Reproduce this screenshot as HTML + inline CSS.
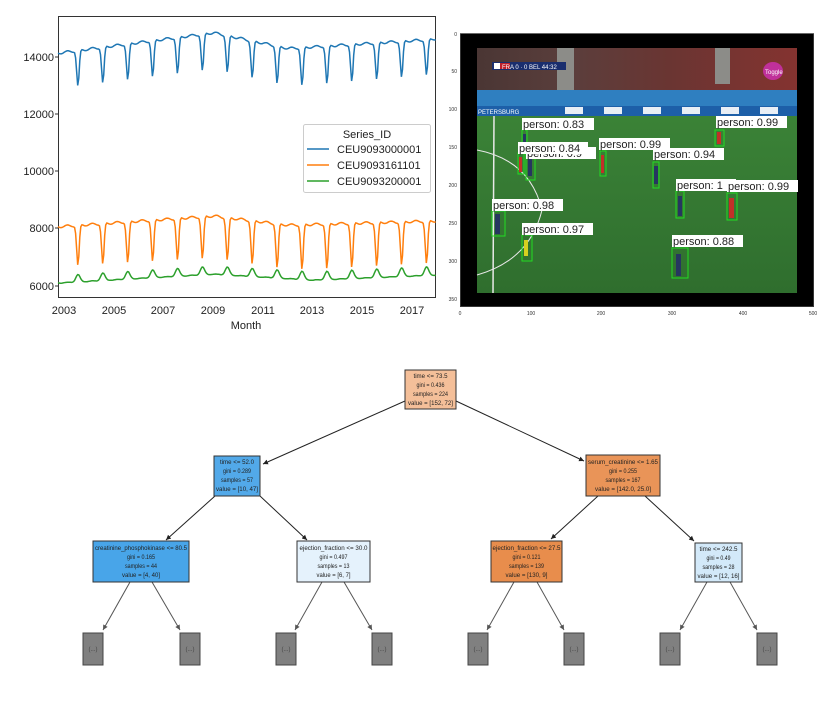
<!DOCTYPE html>
<html><head><meta charset="utf-8"><style>
html,body{margin:0;padding:0;background:#fff;width:830px;height:709px;overflow:hidden}
svg{display:block}
text{font-family:"Liberation Sans",sans-serif}
</style></head><body>
<svg id="s" width="830" height="709" viewBox="0 0 830 709" xmlns="http://www.w3.org/2000/svg">
<rect x="58.5" y="16.5" width="377" height="281" fill="#fff" stroke="#333" stroke-width="1"/>
<g font-size="11" fill="#222" text-anchor="end">
<text x="54" y="61">14000</text><text x="54" y="118">12000</text><text x="54" y="175">10000</text><text x="54" y="232">8000</text><text x="54" y="290">6000</text>
</g>
<g stroke="#333"><line x1="55" y1="57" x2="58" y2="57"/><line x1="55" y1="114" x2="58" y2="114"/><line x1="55" y1="171" x2="58" y2="171"/><line x1="55" y1="228" x2="58" y2="228"/><line x1="55" y1="286" x2="58" y2="286"/></g>
<g font-size="11" fill="#222" text-anchor="middle">
<text x="64" y="314">2003</text><text x="114" y="314">2005</text><text x="163" y="314">2007</text><text x="213" y="314">2009</text><text x="263" y="314">2011</text><text x="312" y="314">2013</text><text x="362" y="314">2015</text><text x="412" y="314">2017</text>
<text x="246" y="329">Month</text>
</g>
<g id="lines" fill="none" stroke-width="1.5"></g>
<rect x="303.5" y="124.5" width="127" height="68" rx="2" fill="#fff" fill-opacity="0.85" stroke="#ccc"/>
<text x="367" y="138" font-size="11" fill="#222" text-anchor="middle">Series_ID</text>
<line x1="307" y1="149" x2="329" y2="149" stroke="#1f77b4" stroke-width="1.5"/>
<line x1="307" y1="165" x2="329" y2="165" stroke="#ff7f0e" stroke-width="1.5"/>
<line x1="307" y1="181" x2="329" y2="181" stroke="#2ca02c" stroke-width="1.5"/>
<g font-size="11" fill="#222"><text x="337" y="153">CEU9093000001</text><text x="337" y="169">CEU9093161101</text><text x="337" y="185">CEU9093200001</text></g>

<rect x="460" y="34" width="354" height="273" fill="#000"/>
<defs>
<linearGradient id="fld" x1="0" y1="0" x2="0" y2="1"><stop offset="0" stop-color="#3f8a3a"/><stop offset="1" stop-color="#2f6e2e"/></linearGradient>
<linearGradient id="crowd" x1="0" y1="0" x2="1" y2="0"><stop offset="0" stop-color="#4a3634"/><stop offset="0.3" stop-color="#5b3e3c"/><stop offset="0.6" stop-color="#6a3532"/><stop offset="1" stop-color="#843330"/></linearGradient>
</defs>
<rect x="477" y="48" width="320" height="245" fill="url(#fld)"/>
<rect x="477" y="48" width="320" height="43" fill="url(#crowd)"/>
<rect x="557" y="48" width="17" height="43" fill="#8c8c88"/>
<rect x="715" y="48" width="15" height="36" fill="#8c8c88"/>
<rect x="477" y="90" width="320" height="16" fill="#2f7fc0"/>
<rect x="477" y="106" width="320" height="10" fill="#1d5fa8"/>
<g fill="#e8eef5"><rect x="565" y="107" width="18" height="7"/><rect x="604" y="107" width="18" height="7"/><rect x="643" y="107" width="18" height="7"/><rect x="682" y="107" width="18" height="7"/><rect x="721" y="107" width="18" height="7"/><rect x="760" y="107" width="18" height="7"/></g>
<text x="478" y="114" font-size="6" fill="#fff">PETERSBURG</text>
<rect x="492" y="62" width="74" height="8" fill="#1a2e6e"/>
<rect x="494" y="63" width="6" height="6" fill="#fff"/><rect x="500" y="63" width="10" height="6" fill="#c0202a"/>
<text x="502" y="69" font-size="6" fill="#fff">FRA  0 · 0  BEL  44:32</text>
<ellipse cx="773" cy="71" rx="10" ry="9" fill="#c0309a"/>
<text x="765" y="74" font-size="6" fill="#fff">Toggle</text>
<path d="M477 150 Q530 160 542 210 Q530 260 477 275" fill="none" stroke="#e8e8e8" stroke-width="1"/>
<line x1="494" y1="116" x2="493" y2="293" stroke="#e8e8e8" stroke-width="1.5"/>
<g fill="none" stroke="#22dd22" stroke-width="1">
<rect x="522" y="130" width="5" height="20"/><rect x="518" y="153" width="6" height="21"/><rect x="526" y="150" width="9" height="30"/>
<rect x="600" y="151" width="6" height="25"/><rect x="653" y="162" width="6" height="26"/><rect x="715" y="130" width="9" height="16"/>
<rect x="676" y="191" width="8" height="27"/><rect x="727" y="193" width="10" height="27"/><rect x="492" y="211" width="13" height="25"/>
<rect x="522" y="235" width="10" height="26"/><rect x="672" y="248" width="16" height="30"/>
</g>
<g fill="#263660"><rect x="523" y="134" width="3" height="14"/><rect x="528" y="158" width="4" height="18"/><rect x="654" y="166" width="4" height="18"/><rect x="678" y="196" width="4" height="20"/><rect x="495" y="214" width="5" height="20"/><rect x="676" y="254" width="5" height="22"/></g>
<g fill="#c23028"><rect x="519" y="157" width="3" height="15"/><rect x="601" y="155" width="3" height="18"/><rect x="717" y="132" width="4" height="12"/><rect x="729" y="198" width="5" height="20"/></g>
<rect x="524" y="240" width="4" height="16" fill="#d6d020"/>
<g font-size="11" fill="#222">
<rect x="526" y="147" width="70" height="12" fill="#fff"/><text x="527" y="157">person: 0.9</text>
<rect x="522" y="118" width="72" height="12" fill="#fff"/><text x="523" y="128">person: 0.83</text>
<rect x="518" y="142" width="70" height="12" fill="#fff"/><text x="519" y="152">person: 0.84</text>
<rect x="599" y="138" width="71" height="12" fill="#fff"/><text x="600" y="148">person: 0.99</text>
<rect x="653" y="148" width="71" height="12" fill="#fff"/><text x="654" y="158">person: 0.94</text>
<rect x="716" y="116" width="71" height="12" fill="#fff"/><text x="717" y="126">person: 0.99</text>
<rect x="676" y="179" width="60" height="12" fill="#fff"/><text x="677" y="189">person: 1</text>
<rect x="727" y="180" width="71" height="12" fill="#fff"/><text x="728" y="190">person: 0.99</text>
<rect x="492" y="199" width="71" height="12" fill="#fff"/><text x="493" y="209">person: 0.98</text>
<rect x="522" y="223" width="71" height="12" fill="#fff"/><text x="523" y="233">person: 0.97</text>
<rect x="672" y="235" width="71" height="12" fill="#fff"/><text x="673" y="245">person: 0.88</text>
</g>
<rect x="460.5" y="33.5" width="353" height="273" fill="none" stroke="#444" stroke-width="0.8"/>
<g font-size="5" fill="#333" text-anchor="end">
<text x="457" y="36">0</text><text x="457" y="73">50</text><text x="457" y="111">100</text><text x="457" y="149">150</text><text x="457" y="187">200</text><text x="457" y="225">250</text><text x="457" y="263">300</text><text x="457" y="301">350</text>
</g>
<g font-size="5" fill="#333" text-anchor="middle">
<text x="460" y="315">0</text><text x="531" y="315">100</text><text x="601" y="315">200</text><text x="672" y="315">300</text><text x="743" y="315">400</text><text x="813" y="315">500</text>
</g>

<defs><marker id="ar" markerWidth="6" markerHeight="6" refX="5" refY="3" orient="auto"><path d="M0,0.5 L5,3 L0,5.5z" fill="#222"/></marker>
<marker id="ar2" markerWidth="6" markerHeight="6" refX="5" refY="3" orient="auto"><path d="M0,0.5 L5,3 L0,5.5z" fill="#555"/></marker></defs>
<g stroke="#222" stroke-width="1" marker-end="url(#ar)">
<line x1="405" y1="401" x2="263" y2="464"/><line x1="456" y1="401" x2="584" y2="461"/>
<line x1="215" y1="496" x2="166" y2="540"/><line x1="260" y1="496" x2="307" y2="540"/>
<line x1="598" y1="496" x2="551" y2="539"/><line x1="645" y1="496" x2="694" y2="541"/>
</g>
<g stroke="#555" stroke-width="1" marker-end="url(#ar2)">
<line x1="130" y1="582" x2="103" y2="630"/><line x1="152" y1="582" x2="180" y2="630"/>
<line x1="322" y1="582" x2="295" y2="630"/><line x1="344" y1="582" x2="372" y2="630"/>
<line x1="514" y1="582" x2="487" y2="630"/><line x1="537" y1="582" x2="564" y2="630"/>
<line x1="707" y1="582" x2="680" y2="630"/><line x1="730" y1="582" x2="757" y2="630"/>
</g>
<g stroke="#333" stroke-width="1">
<rect x="405" y="370" width="51" height="39" fill="#f4bf99"/>
<rect x="214" y="456" width="46" height="40" fill="#52a9e9"/>
<rect x="586" y="455" width="74" height="41" fill="#e99458"/>
<rect x="93" y="541" width="96" height="41" fill="#48a5e9"/>
<rect x="297" y="541" width="73" height="41" fill="#e5f2fc"/>
<rect x="491" y="541" width="71" height="41" fill="#e88d4c"/>
<rect x="695" y="543" width="47" height="39" fill="#d3e9f9"/>
</g>
<g fill="#808080" stroke="#444">
<rect x="83" y="633" width="20" height="32"/><rect x="180" y="633" width="20" height="32"/><rect x="276" y="633" width="20" height="32"/><rect x="372" y="633" width="20" height="32"/>
<rect x="468" y="633" width="20" height="32"/><rect x="564" y="633" width="20" height="32"/><rect x="660" y="633" width="20" height="32"/><rect x="757" y="633" width="20" height="32"/>
</g>
<g font-size="6" fill="#444" text-anchor="middle">
<text x="93" y="651">(...)</text><text x="190" y="651">(...)</text><text x="286" y="651">(...)</text><text x="382" y="651">(...)</text>
<text x="478" y="651">(...)</text><text x="574" y="651">(...)</text><text x="670" y="651">(...)</text><text x="767" y="651">(...)</text>
</g>
<g font-size="6" fill="#222" text-anchor="middle" lengthAdjust="spacingAndGlyphs">
<text x="430.5" y="378" textLength="34" lengthAdjust="spacingAndGlyphs">time &lt;= 73.5</text><text x="430.5" y="387" textLength="28" lengthAdjust="spacingAndGlyphs">gini = 0.436</text><text x="430.5" y="396" textLength="35" lengthAdjust="spacingAndGlyphs">samples = 224</text><text x="430.5" y="405" textLength="45" lengthAdjust="spacingAndGlyphs">value = [152, 72]</text>
<text x="237" y="464" textLength="34" lengthAdjust="spacingAndGlyphs">time &lt;= 52.0</text><text x="237" y="473" textLength="28" lengthAdjust="spacingAndGlyphs">gini = 0.289</text><text x="237" y="482" textLength="32" lengthAdjust="spacingAndGlyphs">samples = 57</text><text x="237" y="491" textLength="42" lengthAdjust="spacingAndGlyphs">value = [10, 47]</text>
<text x="623" y="464" textLength="70" lengthAdjust="spacingAndGlyphs">serum_creatinine &lt;= 1.65</text><text x="623" y="473" textLength="28" lengthAdjust="spacingAndGlyphs">gini = 0.255</text><text x="623" y="482" textLength="35" lengthAdjust="spacingAndGlyphs">samples = 167</text><text x="623" y="491" textLength="56" lengthAdjust="spacingAndGlyphs">value = [142.0, 25.0]</text>
<text x="141" y="550" textLength="92" lengthAdjust="spacingAndGlyphs">creatinine_phosphokinase &lt;= 80.5</text><text x="141" y="559" textLength="28" lengthAdjust="spacingAndGlyphs">gini = 0.165</text><text x="141" y="568" textLength="32" lengthAdjust="spacingAndGlyphs">samples = 44</text><text x="141" y="577" textLength="38" lengthAdjust="spacingAndGlyphs">value = [4, 40]</text>
<text x="333.5" y="550" textLength="68" lengthAdjust="spacingAndGlyphs">ejection_fraction &lt;= 30.0</text><text x="333.5" y="559" textLength="28" lengthAdjust="spacingAndGlyphs">gini = 0.497</text><text x="333.5" y="568" textLength="32" lengthAdjust="spacingAndGlyphs">samples = 13</text><text x="333.5" y="577" textLength="34" lengthAdjust="spacingAndGlyphs">value = [6, 7]</text>
<text x="526.5" y="550" textLength="68" lengthAdjust="spacingAndGlyphs">ejection_fraction &lt;= 27.5</text><text x="526.5" y="559" textLength="28" lengthAdjust="spacingAndGlyphs">gini = 0.121</text><text x="526.5" y="568" textLength="35" lengthAdjust="spacingAndGlyphs">samples = 139</text><text x="526.5" y="577" textLength="42" lengthAdjust="spacingAndGlyphs">value = [130, 9]</text>
<text x="718.5" y="551" textLength="38" lengthAdjust="spacingAndGlyphs">time &lt;= 242.5</text><text x="718.5" y="560" textLength="24" lengthAdjust="spacingAndGlyphs">gini = 0.49</text><text x="718.5" y="569" textLength="32" lengthAdjust="spacingAndGlyphs">samples = 28</text><text x="718.5" y="578" textLength="42" lengthAdjust="spacingAndGlyphs">value = [12, 16]</text>
</g>
</svg>
<script>
(function(){
function interp(pts,t){for(var i=0;i<pts.length-1;i++){if(t<=pts[i+1][0]){var a=pts[i],b=pts[i+1];return a[1]+(b[1]-a[1])*(t-a[0])/(b[0]-a[0]);}}return pts[pts.length-1][1];}
var X=function(t){return 58+(t-2002.75)*24.9;};
var Y=function(v){return 57+(14000-v)*57/2000;};
var series=[
 {c:"#1f77b4",base:[[2002,14050],[2009,14850],[2012,14300],[2017.5,14600],[2018,14650]],dip:[[2002,1250],[2009,1300],[2013,1350],[2018,1250]],w:0.07},
 {c:"#ff7f0e",base:[[2002,8000],[2009,8420],[2012,8100],[2018,8250]],dip:[[2002,1400],[2009,1500],[2013,1600],[2018,1500]],w:0.07},
 {c:"#2ca02c",base:[[2002,6030],[2009,6380],[2013,6170],[2018,6350]],dip:[[2002,-250],[2018,-300]],w:0.12}
];
var g=document.getElementById("lines");var out="";
series.forEach(function(s){var p=[];for(var t=2002.75;t<=2017.95;t+=1/24){var v=interp(s.base,t);var f=t-Math.floor(t);
 var d=Math.exp(-Math.pow((f-0.55)/s.w,2));v-=interp(s.dip,t)*d;
 v+=Math.sin(t*2*Math.PI*2)*(s.c=="#2ca02c"?10:40);
 p.push(X(t).toFixed(1)+","+Y(v).toFixed(1));}
 out+='<polyline stroke="'+s.c+'" points="'+p.join(" ")+'"/>';});
g.innerHTML=out;
})();
</script>
</body></html>
